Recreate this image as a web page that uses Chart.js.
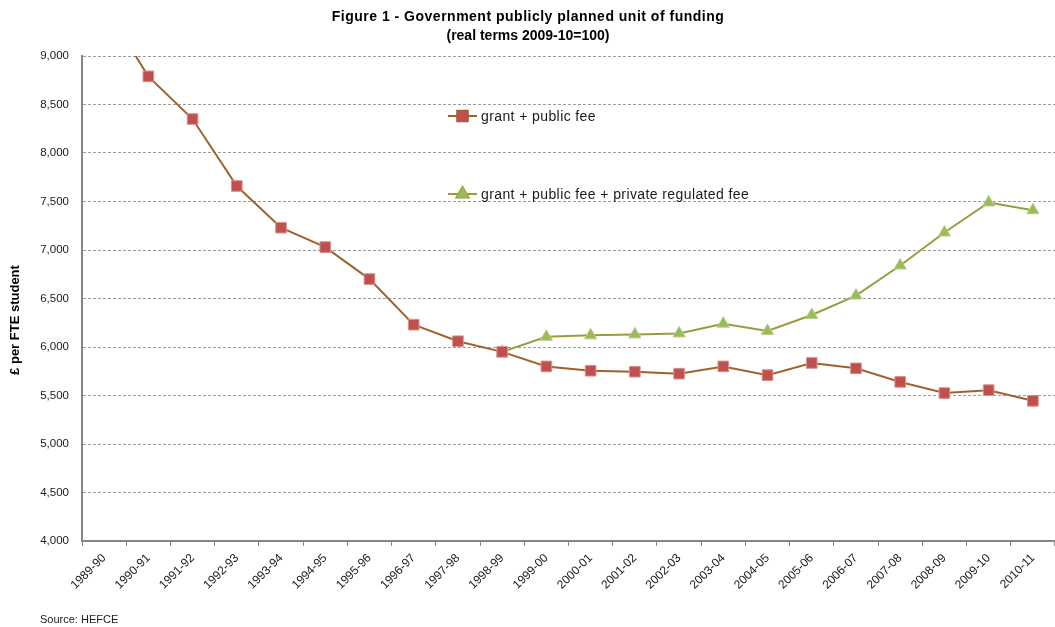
<!DOCTYPE html>
<html>
<head>
<meta charset="utf-8">
<script src="https://cdn.jsdelivr.net/npm/chart.js@4"></script>
<style>
  html, body { margin: 0; padding: 0; background: #fff; }
  #wrap { position: relative; width: 1055px; height: 627px; }
</style>
</head>
<body>
<div id="wrap"><canvas id="chart" width="1055" height="627"></canvas></div>
<script>
const years = ['1989-90', '1990-91', '1991-92', '1992-93', '1993-94', '1994-95', '1995-96',
    '1996-97', '1997-98', '1998-99', '1999-00', '2000-01', '2001-02', '2002-03', '2003-04',
    '2004-05', '2005-06', '2006-07', '2007-08', '2008-09', '2009-10', '2010-11'];

// £ per FTE student, grant + public fee
const grantPublic = [9520, 8790, 8350, 7660, 7230, 7030, 6700, 6230, 6060, 5950, 5800,
    5755, 5745, 5725, 5800, 5710, 5835, 5780, 5640, 5525, 5555, 5445];

// adds the private regulated fee from 1998-99 onwards
const withPrivateFee = [null, null, null, null, null, null, null, null, null, 5950, 6105,
    6120, 6130, 6140, 6240, 6165, 6330, 6530, 6840, 7180, 7490, 7410];

const yMin = 4000;
const yMax = 9000;
const yStep = 500;

const titleLines = ['Figure 1 - Government publicly planned unit of funding', '(real terms 2009-10=100)'];
const yTitle = '£ per FTE student';
const sourceNote = 'Source: HEFCE';

const FONT = '"Liberation Sans", Arial, sans-serif';
Chart.defaults.font.family = FONT;
Chart.defaults.color = '#1a1a1a';

// title, axis label, source note and the in-plot legend
const annotations = {
    id: 'annotations',
    afterDraw(chart) {
        const ctx = chart.ctx;
        ctx.save();
        ctx.fillStyle = '#000';
        ctx.textAlign = 'center';
        ctx.textBaseline = 'middle';
        ctx.font = `bold 14px ${FONT}`;
        ctx.letterSpacing = '0.5px';
        ctx.fillText(titleLines[0], 528, 17);
        ctx.letterSpacing = '0px';
        ctx.fillText(titleLines[1], 528, 36);

        ctx.save();
        ctx.translate(15, 320);
        ctx.rotate(-Math.PI / 2);
        ctx.font = `bold 13px ${FONT}`;
        ctx.fillText(yTitle, 0, 0);
        ctx.restore();

        ctx.textAlign = 'left';
        ctx.font = `11px ${FONT}`;
        ctx.fillStyle = '#1a1a1a';
        ctx.fillText(sourceNote, 40, 620);

        const rows = [116, 194];
        chart.data.datasets.forEach((ds, i) => {
            const y = rows[i];
            ctx.strokeStyle = ds.borderColor;
            ctx.lineWidth = 2;
            ctx.beginPath();
            ctx.moveTo(448, y);
            ctx.lineTo(477, y);
            ctx.stroke();
            Chart.helpers.drawPoint(ctx, {
                pointStyle: ds.pointStyle,
                radius: ds.pointRadius,
                borderWidth: 1
            }, 462.5, y);
            ctx.fillStyle = ds.pointBackgroundColor;
            ctx.strokeStyle = ds.pointBorderColor;
            ctx.fill();
            ctx.fillStyle = '#1a1a1a';
            ctx.font = `14px ${FONT}`;
            ctx.letterSpacing = '0.4px';
            ctx.fillText(ds.label, 481, y + 1);
            ctx.letterSpacing = '0px';
        });
        ctx.restore();
    }
};

new Chart(document.getElementById('chart').getContext('2d'), {
    type: 'line',
    data: {
        labels: years,
        datasets: [{
            label: 'grant + public fee',
            data: grantPublic,
            borderColor: '#A0622D',
            borderWidth: 2,
            pointStyle: 'rect',
            pointRadius: 7.5,
            pointBackgroundColor: '#C0504D',
            pointBorderColor: '#D98F8D',
            pointBorderWidth: 1,
            tension: 0
        }, {
            label: 'grant + public fee + private regulated fee',
            data: withPrivateFee,
            borderColor: '#9C9B3C',
            borderWidth: 2,
            pointStyle: 'triangle',
            pointRadius: 7,
            pointBackgroundColor: '#9BBB59',
            pointBorderColor: '#B5CF85',
            pointBorderWidth: 1,
            tension: 0
        }]
    },
    options: {
        responsive: false,
        animation: false,
        layout: {
            autoPadding: false,
            padding: { top: 56, left: 0, right: 0, bottom: 0 }
        },
        plugins: {
            legend: { display: false },
            title: { display: false },
            tooltip: { enabled: false }
        },
        scales: {
            x: {
                offset: true,
                afterFit: s => { s.height = 86; },
                grid: {
                    offset: true,
                    drawOnChartArea: false,
                    drawTicks: true,
                    tickLength: 5,
                    color: '#868686',
                    lineWidth: 1
                },
                border: { color: '#868686', width: 2 },
                ticks: {
                    autoSkip: false,
                    minRotation: 45,
                    maxRotation: 45,
                    padding: 5,
                    font: { size: 12 }
                }
            },
            y: {
                min: yMin,
                max: yMax,
                afterFit: s => { s.width = 82; },
                grid: {
                    color: '#9a9a9a',
                    lineWidth: 1,
                    drawTicks: false
                },
                border: { color: '#868686', width: 2, dash: [3, 2] },
                ticks: {
                    stepSize: yStep,
                    padding: 13,
                    font: { size: 11.5 },
                    callback: v => v.toLocaleString('en-US')
                }
            }
        }
    },
    plugins: [annotations]
});
</script>
</body>
</html>
